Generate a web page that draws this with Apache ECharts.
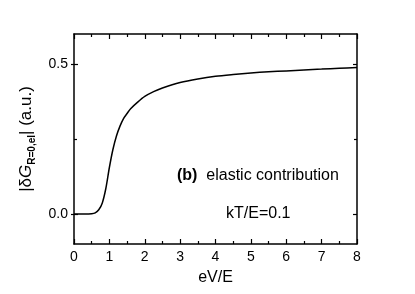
<!DOCTYPE html>
<html>
<head>
<meta charset="utf-8">
<script src="https://cdn.jsdelivr.net/npm/echarts@6/dist/echarts.min.js"></script>
<style>html,body{margin:0;padding:0;background:#fff;}#c{width:415px;height:294px;}</style>
</head>
<body>
<div id="c"></div>
<script>
var xs = [0, 0.3, 0.5, 0.6, 0.7, 0.8, 0.9, 1.0, 1.1, 1.2, 1.3, 1.4, 1.5, 1.6, 1.8, 2.0, 2.25, 2.5, 3.0, 3.5, 4.0, 4.5, 5.0, 5.5, 6.0, 6.5, 7.0, 7.5, 8.0];
var ys = [0, 0, 0.001, 0.004, 0.014, 0.037, 0.085, 0.155, 0.215, 0.26, 0.293, 0.318, 0.335, 0.351, 0.373, 0.392, 0.408, 0.42, 0.438, 0.45, 0.459, 0.465, 0.47, 0.474, 0.477, 0.48, 0.483, 0.486, 0.488];
var yTicks = [0, 0.5];
var yMinorTicks = [0.25];
var xLabels = [0, 1, 2, 3, 4, 5, 6, 7, 8];
var annotation = "elastic contribution";
var panel = "(b)";
var param = "kT/E=0.1";

var font = "Liberation Sans, Arial, sans-serif";
var data = xs.map(function (x, i) { return [x, ys[i]]; });
var chart = echarts.init(document.getElementById('c'), null, {renderer: 'canvas'});
var lineStyle = {color: '#000', width: 1.5};
function xAx(pos, labels) {
  return {
    type: 'value', position: pos, min: 0, max: 8, interval: 1,
    axisLine: {show: true, onZero: false, lineStyle: lineStyle},
    axisTick: {show: true, inside: true, length: 5, lineStyle: {color: '#000', width: 1.2}},
    minorTick: {show: true, splitNumber: 2, length: 3, lineStyle: {color: '#000', width: 1.2}},
    splitLine: {show: false},
    axisLabel: {show: labels, color: '#000', fontSize: 14, fontFamily: font, margin: 6,
      formatter: function (v) { return xLabels.indexOf(v) >= 0 ? String(v) : ''; }},
    name: labels ? 'eV/E' : '', nameLocation: 'middle', nameGap: 26,
    nameTextStyle: {color: '#000', fontSize: 16, fontFamily: font}
  };
}
function yAx(pos, showLine, ticks, inside, len, labels) {
  return {
    type: 'value', position: pos, min: -0.1, max: 0.6,
    axisLine: {show: showLine, onZero: false, lineStyle: lineStyle},
    axisTick: {show: true, inside: inside, length: len, customValues: ticks, lineStyle: {color: '#000', width: 1.2}},
    splitLine: {show: false},
    axisLabel: {show: labels, customValues: yTicks, color: '#000', fontSize: 14, fontFamily: font, margin: 6,
      formatter: function (v) { return v.toFixed(1); }},
    name: labels ? '{m||δ}{g|G}{s|R=0,el}{m|| (a.u.)}' : '',
    nameLocation: 'middle', nameGap: 36, nameRotate: 90,
    nameTextStyle: {color: '#000', fontSize: 17, fontFamily: font,
      rich: {
        m: {fontSize: 17, fontFamily: font, color: '#000', lineHeight: 22, verticalAlign: 'middle'},
        g: {fontSize: 17, fontFamily: font, color: '#000', fontStyle: 'italic', lineHeight: 22, verticalAlign: 'middle'},
        s: {fontSize: 10, fontFamily: font, color: '#000', fontWeight: 'bold', lineHeight: 12, verticalAlign: 'bottom', padding: [9, 0, 0, 0]}
      }}
  };
}
chart.setOption({
  animation: false,
  backgroundColor: '#fff',
  grid: {left: 74, right: 58, top: 34, bottom: 50, containLabel: false},
  xAxis: [xAx('bottom', true), xAx('top', false)],
  yAxis: [
    yAx('left', true, yTicks, true, 4, true),
    yAx('left', false, yTicks, false, 3, false),
    yAx('left', false, yMinorTicks, true, 3, false),
    yAx('right', true, yTicks, true, 4, false),
    yAx('right', false, yMinorTicks, true, 3, false)
  ],
  series: [{
    type: 'line', data: data, smooth: 0.3, showSymbol: false, symbol: 'none',
    lineStyle: {color: '#000', width: 1.5}, xAxisIndex: 0, yAxisIndex: 0
  }],
  graphic: [
    {type: 'text', left: 177, top: 168, style: {
      text: '{b|' + panel + '}  ' + annotation, fill: '#000', fontSize: 16, fontFamily: font,
      rich: {b: {fontWeight: 'bold', fontSize: 16, fontFamily: font, fill: '#000'}}}},
    {type: 'text', left: 226, top: 206, style: {text: param, fill: '#000', fontSize: 16, fontFamily: font}}
  ]
});
</script>
</body>
</html>
